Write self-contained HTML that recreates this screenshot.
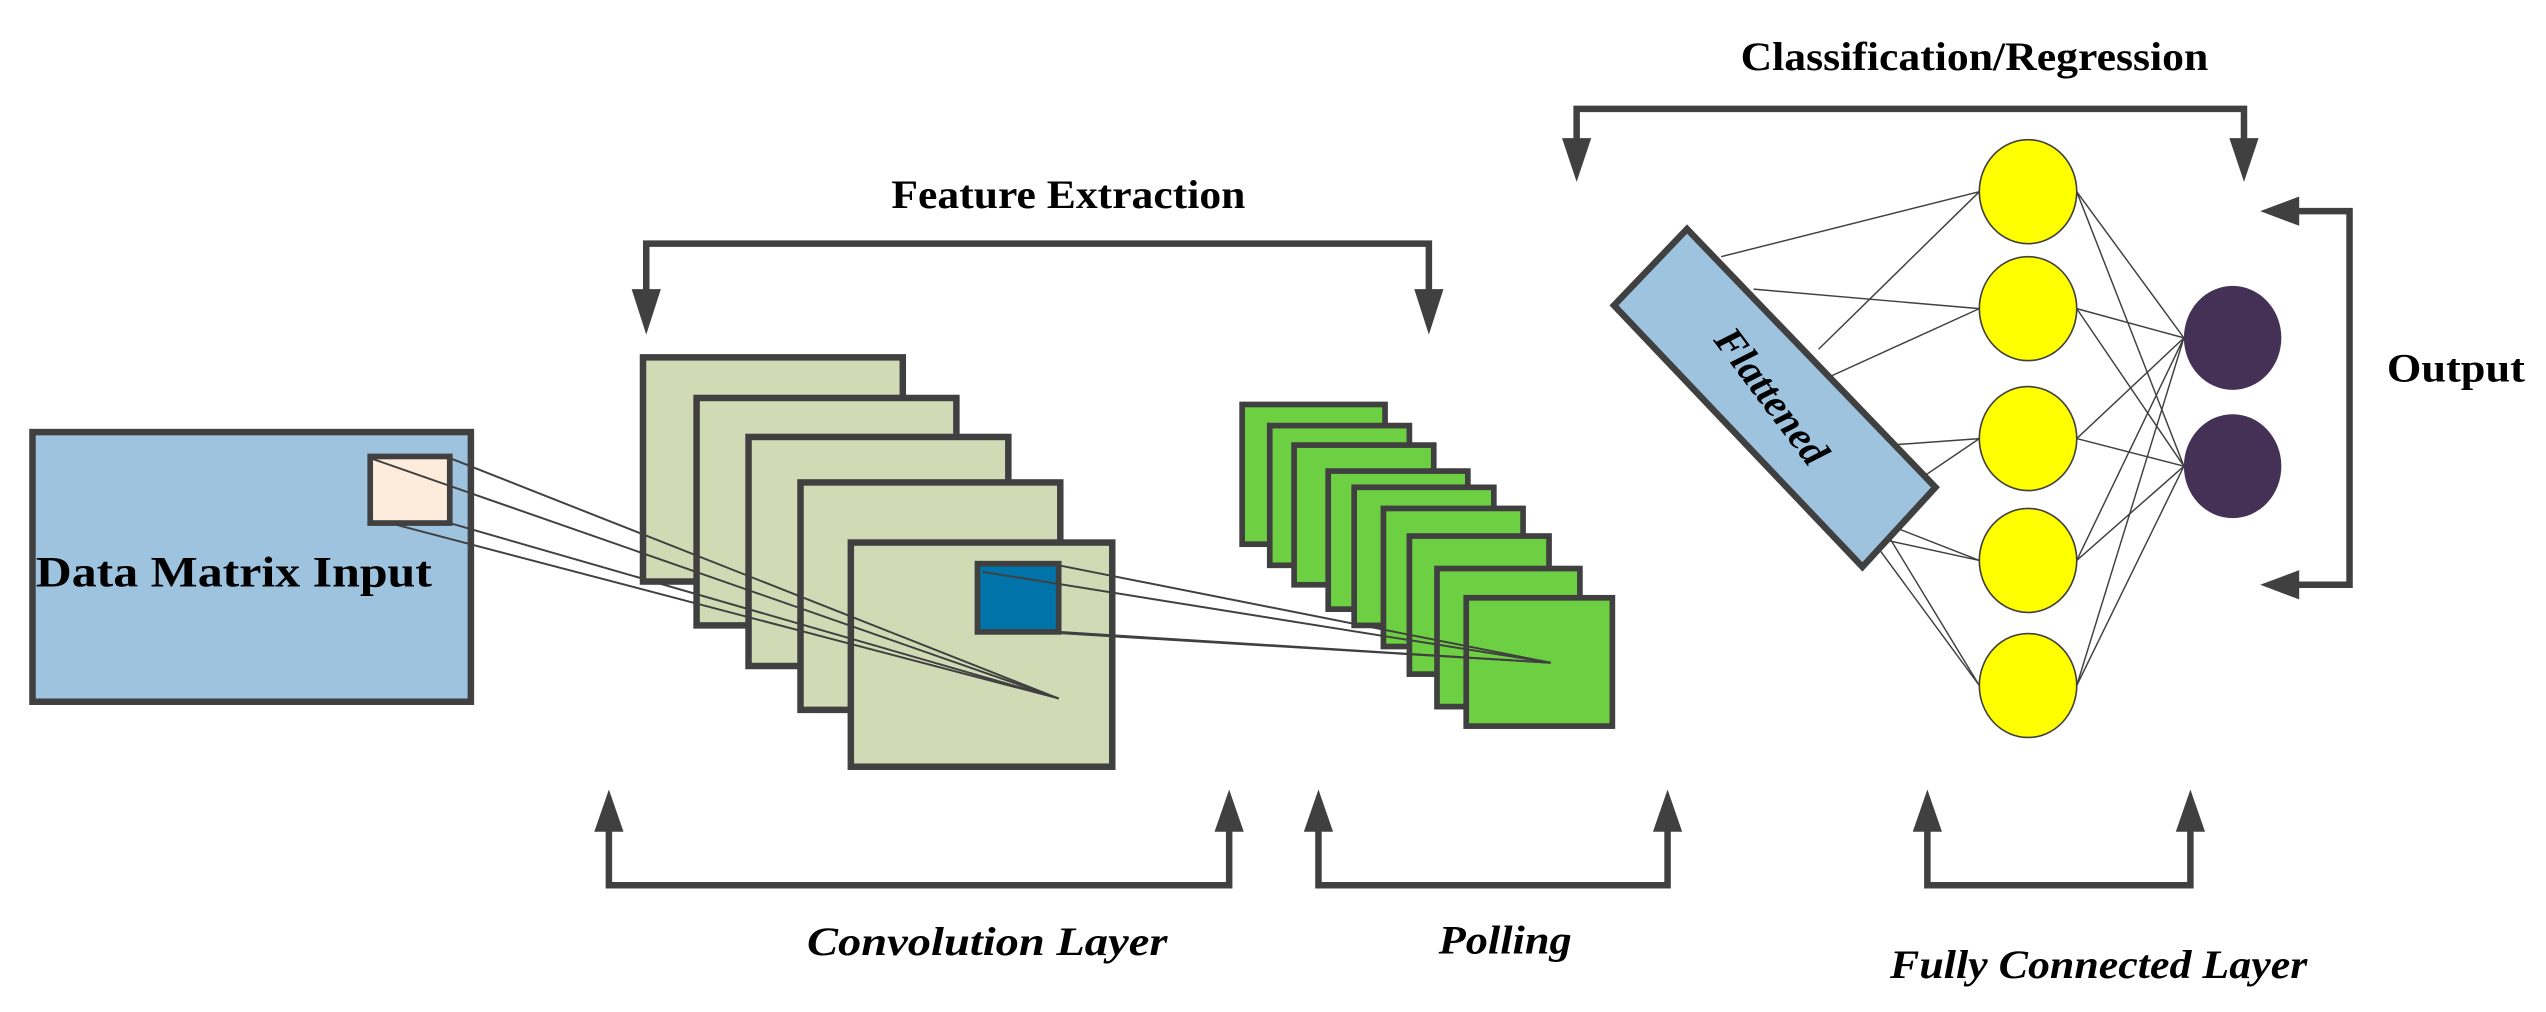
<!DOCTYPE html>
<html><head><meta charset="utf-8"><style>html,body{margin:0;padding:0;background:#fff;}svg{display:block}</style></head>
<body>
<svg width="2546" height="1012" viewBox="0 0 1568 623" preserveAspectRatio="none" xmlns="http://www.w3.org/2000/svg" font-family="'Liberation Serif', serif">
<g fill="#000" font-weight="bold">
<text x="549" y="128" font-size="25" textLength="218" lengthAdjust="spacingAndGlyphs">Feature Extraction</text>
<text x="1072" y="43" font-size="25" textLength="288" lengthAdjust="spacingAndGlyphs">Classification/Regression</text>
<text x="1470" y="235" font-size="25" textLength="85" lengthAdjust="spacingAndGlyphs">Output</text>
<g font-style="italic">
<text x="497" y="588" font-size="25" textLength="222" lengthAdjust="spacingAndGlyphs">Convolution Layer</text>
<text x="886" y="587" font-size="25" textLength="82" lengthAdjust="spacingAndGlyphs">Polling</text>
<text x="1164" y="602" font-size="25" textLength="257" lengthAdjust="spacingAndGlyphs">Fully Connected Layer</text>
</g>
</g>
<g stroke="#404040" stroke-width="4" fill="none">
<polyline points="398,185 398,150 880,150 880,185"/>
<polyline points="971,95 971,67 1382,67 1382,95"/>
<polyline points="1410,130 1447,130 1447,360 1410,360"/>
<polyline points="375,505 375,545 757,545 757,505"/>
<polyline points="812,505 812,545 1027,545 1027,505"/>
<polyline points="1187,505 1187,545 1349,545 1349,505"/>
</g>
<g fill="#404040">
<polygon points="389,178 407,178 398,206"/>
<polygon points="871,178 889,178 880,206"/>
<polygon points="962,85 980,85 971,112"/>
<polygon points="1373,85 1391,85 1382,112"/>
<polygon points="1416,121 1416,139 1392,130"/>
<polygon points="1416,351 1416,369 1392,360"/>
<polygon points="366,512 384,512 375,486"/>
<polygon points="748,512 766,512 757,486"/>
<polygon points="803,512 821,512 812,486"/>
<polygon points="1018,512 1036,512 1027,486"/>
<polygon points="1178,512 1196,512 1187,486"/>
<polygon points="1340,512 1358,512 1349,486"/>
</g>
<rect x="20" y="266" width="270" height="166" fill="#9dc3df" stroke="#404040" stroke-width="4"/>
<text x="22" y="361" font-size="27" font-weight="bold" textLength="244" lengthAdjust="spacingAndGlyphs">Data Matrix Input</text>
<rect x="228" y="281" width="49" height="41" fill="#fdebdc" stroke="#404040" stroke-width="3.5"/>
<g fill="#d0dbb5" stroke="#404040" stroke-width="4">
<rect x="396" y="220" width="160" height="138"/>
<rect x="429" y="245" width="160" height="140"/>
<rect x="461" y="269" width="160" height="141"/>
<rect x="493" y="297" width="160" height="140"/>
<rect x="524" y="334" width="161" height="138"/>
</g>
<rect x="602" y="347" width="50" height="42" fill="#0073a8" stroke="#404040" stroke-width="3.5"/>
<g stroke="#404040" stroke-width="1.2">
<line x1="228" y1="282" x2="652" y2="430"/>
<line x1="277" y1="282" x2="652" y2="430"/>
<line x1="277" y1="322" x2="652" y2="430"/>
<line x1="240" y1="322" x2="652" y2="430"/>
</g>
<g fill="#6dd042" stroke="#404040" stroke-width="3.5">
<rect x="765" y="249" width="88" height="86"/>
<rect x="782" y="262" width="86" height="86"/>
<rect x="797" y="274" width="86" height="86"/>
<rect x="818" y="290" width="86" height="85"/>
<rect x="834" y="300" width="86" height="85"/>
<rect x="852" y="313" width="86" height="85"/>
<rect x="868" y="330" width="86" height="85"/>
<rect x="885" y="350" width="88" height="85"/>
<rect x="903" y="368" width="90" height="79"/>
</g>
<g stroke="#404040" stroke-width="1.2">
<line x1="652" y1="348" x2="955" y2="408"/>
<line x1="605" y1="352" x2="955" y2="408"/>
<line x1="652" y1="389" x2="955" y2="408"/>
<line x1="640" y1="389" x2="955" y2="408"/>
</g>
<g stroke="#404040" stroke-width="0.9">
<line x1="1060" y1="158" x2="1219" y2="118"/>
<line x1="1080" y1="178" x2="1219" y2="190"/>
<line x1="1120" y1="215" x2="1219" y2="118"/>
<line x1="1120" y1="235" x2="1219" y2="190"/>
<line x1="1150" y1="275" x2="1219" y2="270"/>
<line x1="1160" y1="310" x2="1219" y2="270"/>
<line x1="1155" y1="320" x2="1219" y2="345"/>
<line x1="1160" y1="325" x2="1219" y2="422"/>
<line x1="1150" y1="330" x2="1219" y2="345"/>
<line x1="1155" y1="335" x2="1219" y2="422"/>
<line x1="1279" y1="118" x2="1345" y2="208"/><line x1="1279" y1="118" x2="1345" y2="287"/>
<line x1="1279" y1="190" x2="1345" y2="208"/><line x1="1279" y1="190" x2="1345" y2="287"/>
<line x1="1279" y1="270" x2="1345" y2="208"/><line x1="1279" y1="270" x2="1345" y2="287"/>
<line x1="1279" y1="345" x2="1345" y2="208"/><line x1="1279" y1="345" x2="1345" y2="287"/>
<line x1="1279" y1="422" x2="1345" y2="208"/><line x1="1279" y1="422" x2="1345" y2="287"/>
</g>
<polygon points="1039,141 994,188 1147,349 1192,300" fill="#9dc3df" stroke="#404040" stroke-width="4"/>
<text transform="translate(1091,244) rotate(53)" text-anchor="middle" y="8" font-size="25" font-weight="bold" font-style="italic">Flattened</text>
<g fill="#ffff00" stroke="#404040" stroke-width="1">
<ellipse cx="1249" cy="118" rx="30" ry="32"/>
<ellipse cx="1249" cy="190" rx="30" ry="32"/>
<ellipse cx="1249" cy="270" rx="30" ry="32"/>
<ellipse cx="1249" cy="345" rx="30" ry="32"/>
<ellipse cx="1249" cy="422" rx="30" ry="32"/>
</g>
<g fill="#433256">
<ellipse cx="1375" cy="208" rx="30" ry="32"/>
<ellipse cx="1375" cy="287" rx="30" ry="32"/>
</g>
</svg>
</body></html>
